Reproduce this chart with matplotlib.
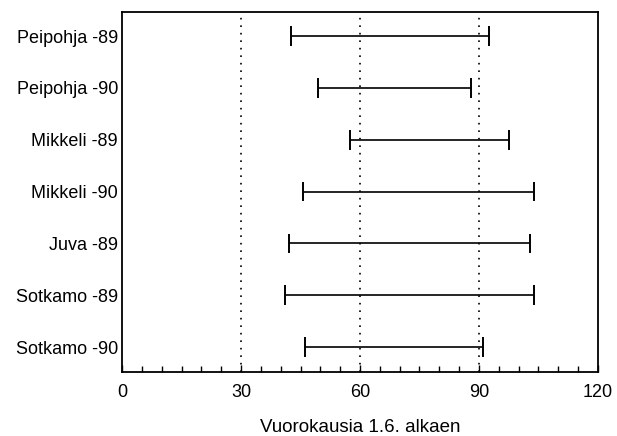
import numpy as np
import matplotlib.pyplot as plt

sites = ['Peipohja -89', 'Peipohja -90', 'Mikkeli -89', 'Mikkeli -90',
         'Juva -89', 'Sotkamo -89', 'Sotkamo -90']
start = [42.5, 49.5, 57.5, 45.5, 42, 41, 46]
end = [92.5, 88, 97.5, 104, 103, 104, 91]
ref_days = [30, 60, 90]

plt.rcParams['font.family'] = ['Liberation Sans', 'DejaVu Sans']

fig = plt.figure(figsize=(6.17, 4.36), dpi=100)
ax = fig.add_axes([0.198, 0.147, 0.771, 0.825])

y = np.arange(len(sites))
for d in ref_days:
    ax.axvline(d, color='black', linewidth=1.2, linestyle=(0, (1, 3.5)))

ax.hlines(y, start, end, color='black', linewidth=1.2)
ax.vlines(start, y - 0.19, y + 0.19, color='black', linewidth=1.4)
ax.vlines(end, y - 0.19, y + 0.19, color='black', linewidth=1.4)

ax.set_xlim(0, 120)
ax.set_ylim(len(sites) - 0.52, -0.46)
ax.set_yticks(y)
ax.set_yticklabels(sites, fontsize=13)
ax.tick_params(axis='y', length=0, pad=3)

ax.set_xticks([0, 30, 60, 90, 120])
ax.set_xticks(np.arange(0, 121, 5), minor=True)
ax.tick_params(axis='x', which='both', direction='in', labelsize=13, pad=9)
ax.tick_params(axis='x', which='major', length=5, width=1)
ax.tick_params(axis='x', which='minor', length=4, width=1)
ax.set_xlabel('Vuorokausia 1.6. alkaen', fontsize=13.5, labelpad=13)

for s in ax.spines.values():
    s.set_linewidth(1.3)

fig.savefig('out.png', dpi=100)
